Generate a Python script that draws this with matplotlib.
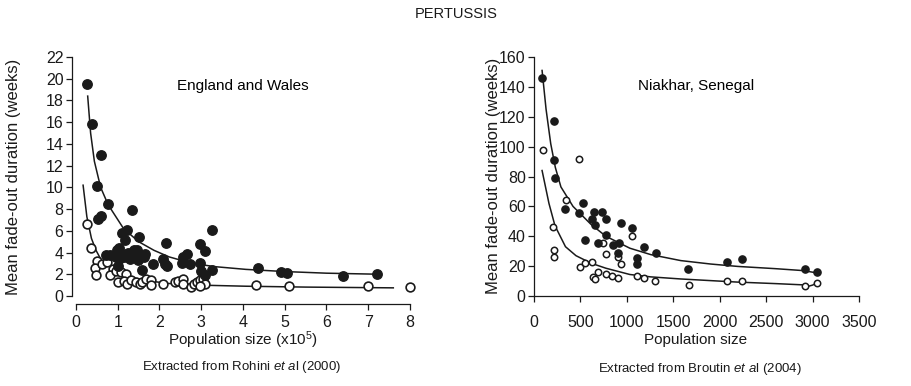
import numpy as np
import matplotlib
matplotlib.use("Agg")
from matplotlib import pyplot as plt

plt.rcParams['font.family'] = ['Liberation Sans', 'DejaVu Sans']
plt.rcParams['mathtext.fontset'] = 'custom'
plt.rcParams['mathtext.rm'] = 'Liberation Sans'
plt.rcParams['mathtext.it'] = 'Liberation Sans:italic'

#   ENGLAND AND WALES - population size in units of 10^5, fade-out in weeks
ew_filled_x = [0.26, 0.39, 0.60, 0.51, 0.77, 0.53, 0.59, 1.35, 1.10, 1.23, 1.17, 1.50, 2.16,
               3.26, 2.97, 3.09, 2.56, 2.66, 2.54, 2.73, 2.97, 2.99, 3.10, 3.26, 4.35, 4.90,
               5.05, 6.40, 7.20, 0.73, 0.81, 0.99, 1.04, 0.97, 1.03, 1.25, 1.21, 1.39, 1.47,
               1.43, 1.49, 1.59, 1.54, 1.63, 1.66, 1.85, 2.09, 2.12, 2.18, 1.00, 1.14, 1.10, 1.30]
ew_filled_y = [19.5, 15.8, 13.0, 10.1, 8.5, 7.1, 7.4, 7.9, 5.8, 6.1, 5.2, 5.4, 4.9,
               6.1, 4.8, 4.1, 3.6, 3.85, 3.0, 2.95, 3.0, 2.3, 1.95, 2.4, 2.55, 2.2,
               2.1, 1.8, 2.0, 3.8, 3.8, 4.25, 4.4, 3.6, 3.4, 4.0, 3.7, 4.2, 4.25,
               3.6, 3.3, 2.4, 3.8, 3.6, 3.9, 2.95, 3.4, 2.9, 2.8, 2.8, 3.6, 3.9, 3.4]
ew_open_x = [0.26, 0.35, 0.51, 0.46, 0.62, 0.48, 0.75, 0.88, 0.81, 0.97, 1.08, 1.19, 1.01,
             1.14, 1.22, 1.32, 1.43, 1.54, 1.59, 1.68, 1.79, 1.79, 2.09, 2.38, 2.45, 2.56,
             2.56, 2.75, 2.82, 2.89, 2.97, 3.04, 3.08, 2.97, 4.30, 5.10, 7.00, 8.00]
ew_open_y = [6.6, 4.4, 3.2, 2.6, 2.9, 1.9, 3.1, 2.5, 1.9, 2.3, 2.2, 2.0, 1.3,
             1.4, 1.15, 1.45, 1.3, 1.1, 1.3, 1.55, 1.5, 1.0, 1.15, 1.3, 1.35, 1.55,
             1.1, 0.85, 1.1, 1.25, 1.45, 1.55, 1.1, 0.9, 1.0, 0.9, 0.95, 0.85]
# fitted curves
ew_fit_filled_x = [0.28, 0.35, 0.44, 0.59, 0.77, 1.14, 1.50, 1.87, 2.23, 2.60, 2.97, 3.33, 4.07, 5.00, 6.00, 7.30]
ew_fit_filled_y = [18.4, 15.0, 12.4, 10.0, 8.4, 6.2, 5.0, 4.2, 3.6, 3.2, 2.9, 2.7, 2.45, 2.25, 2.1, 2.0]
ew_fit_open_x = [0.17, 0.26, 0.37, 0.48, 0.62, 0.77, 0.99, 1.28, 1.72, 2.23, 2.97, 4.07, 5.50, 7.60]
ew_fit_open_y = [10.2, 7.3, 5.3, 4.2, 3.2, 2.8, 2.25, 1.75, 1.4, 1.15, 1.0, 0.9, 0.82, 0.75]

#   NIAKHAR, SENEGAL - population size, fade-out in weeks
ns_filled_x = [85, 215, 215, 225, 339, 484, 532, 548, 629, 645, 661, 687, 735, 774, 774, 848,
               913, 903, 935, 1055, 1113, 1113, 1183, 1310, 1660, 2077, 2240, 2917, 3043]
ns_filled_y = [146, 117, 91, 79, 58.5, 55.7, 62.2, 37.6, 51.5, 56.1, 47.6, 35.3, 56.1, 51.5, 40.6, 34.1,
               35.3, 29, 48.7, 45.7, 25.5, 21.3, 32.5, 28.5, 18.3, 22.5, 24.8, 18.1, 15.8]
ns_open_x = [100, 490, 348, 210, 219, 219, 500, 548, 629, 694, 639, 661, 774, 845, 903, 742,
             774, 903, 935, 1055, 1106, 1183, 1307, 1667, 2083, 2240, 2917, 3043]
ns_open_y = [98, 92, 64.3, 46.4, 30.9, 26.2, 19.3, 22, 22.5, 16, 12.8, 11.1, 14.8, 13.5, 12.3, 35.3,
             28.3, 26.2, 21.3, 39.9, 13.5, 12.3, 10.2, 7.4, 10.2, 10.2, 7.0, 8.6]
ns_fit_filled_x = [87, 130, 180, 230, 290, 420, 613, 774, 1032, 1258, 1581, 1903, 2194, 2600, 2900, 3043]
ns_fit_filled_y = [151, 125, 102, 86, 73, 60, 48, 40, 32, 27.7, 23.7, 21.4, 19.8, 18.3, 17, 15.5]
ns_fit_open_x = [87, 161, 226, 339, 452, 613, 774, 1032, 1258, 1581, 2194, 2600, 2917, 2960, 3000, 3043]
ns_fit_open_y = [84, 62, 47, 33, 27, 22, 18.6, 14.4, 12.8, 11.4, 9.3, 8.3, 7.4, 6.6, 7.3, 8.6]

ew_xticks = np.arange(0, 9, 1)
ew_yticks = np.arange(0, 24, 2)
ns_xticks = np.arange(0, 4000, 500)
ns_yticks = np.arange(0, 180, 20)

ink = '#1a1a1a'
fs = 12

fig = plt.figure(figsize=(9.12, 3.86), dpi=100)
ax1 = fig.add_axes([76 / 912, 90 / 386, 334 / 912, 239 / 386])
ax2 = fig.add_axes([534 / 912, 90 / 386, 325 / 912, 239 / 386])

# LEFT PANEL
ax1.plot(ew_fit_filled_x, ew_fit_filled_y, color=ink, lw=1.1)
ax1.plot(ew_fit_open_x, ew_fit_open_y, color=ink, lw=1.1)
ax1.plot(ew_open_x, ew_open_y, 'o', ms=6.3, mfc='white', mec=ink, mew=1.2, clip_on=False, zorder=3)
ax1.plot(ew_filled_x, ew_filled_y, 'o', ms=6.8, mfc=ink, mec=ink, clip_on=False, zorder=4)
ax1.set_xlim(0, 8)
ax1.set_ylim(0, 22)
ax1.set_xticks(ew_xticks)
ax1.set_yticks(ew_yticks)
ax1.spines['top'].set_visible(False)
ax1.spines['right'].set_visible(False)
ax1.spines['left'].set_position(('outward', 3))
ax1.spines['bottom'].set_position(('outward', 6))
ax1.spines['left'].set_bounds(0, 22)
ax1.spines['bottom'].set_bounds(0, 8)
ax1.text(0.5, 0.88, 'England and Wales', transform=ax1.transAxes, ha='center', va='center', fontsize=11)

# RIGHT PANEL
ax2.plot(ns_fit_filled_x, ns_fit_filled_y, color=ink, lw=1.1)
ax2.plot(ns_fit_open_x, ns_fit_open_y, color=ink, lw=1.1)
ax2.plot(ns_open_x, ns_open_y, 'o', ms=4.6, mfc='white', mec=ink, mew=1.1, clip_on=False, zorder=3)
ax2.plot(ns_filled_x, ns_filled_y, 'o', ms=5.2, mfc=ink, mec=ink, clip_on=False, zorder=4)
ax2.set_xlim(0, 3500)
ax2.set_ylim(0, 160)
ax2.set_xticks(ns_xticks)
ax2.set_yticks(ns_yticks)
ax2.spines['top'].set_visible(False)
ax2.spines['right'].set_visible(False)
ax2.text(0.5, 0.88, 'Niakhar, Senegal', transform=ax2.transAxes, ha='center', va='center', fontsize=11)

for ax in (ax1, ax2):
    ax.tick_params(direction='out', length=4, width=0.9, colors=ink, labelsize=11.5, pad=2)
    for s in ('left', 'bottom'):
        ax.spines[s].set_linewidth(0.9)
        ax.spines[s].set_color(ink)
ax1.tick_params(axis='x', pad=4)
ax2.tick_params(axis='x', pad=10)

# TEXTS
fig.text(0.5, 1 - 14 / 386, 'PERTUSSIS', ha='center', va='center', fontsize=10.5, color=ink)
fig.text(14 / 912, 1 - 177 / 386, 'Mean fade-out duration (weeks)', rotation=90,
         ha='center', va='center', fontsize=fs, color=ink)
fig.text(494 / 912, 1 - 176 / 386, 'Mean fade-out duration (weeks)', rotation=90,
         ha='center', va='center', fontsize=fs, color=ink)
fig.text(243 / 912, 1 - 340 / 386, r'Population size (x10$^5$)', ha='center', va='center', fontsize=11, color=ink)
fig.text(696 / 912, 1 - 340 / 386, 'Population size', ha='center', va='center', fontsize=11, color=ink)
fig.text(242 / 912, 1 - 367 / 386, r'Extracted from Rohini $\mathit{et\ a}$l (2000)',
         ha='center', va='center', fontsize=9.5, color=ink)
fig.text(700 / 912, 1 - 369 / 386, r'Extracted from Broutin $\mathit{et\ a}$l (2004)',
         ha='center', va='center', fontsize=9.5, color=ink)

fig.savefig('out.png', dpi=100)
